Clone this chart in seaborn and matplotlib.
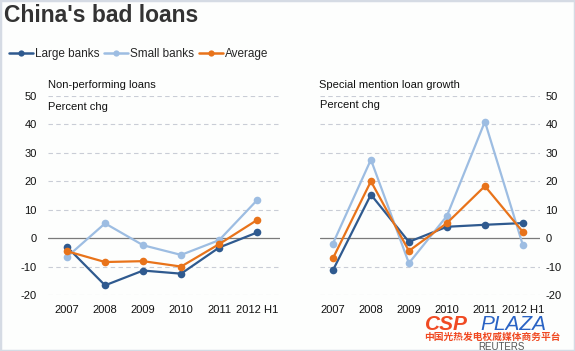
import matplotlib
matplotlib.use("Agg")
import matplotlib.pyplot as plt
import seaborn as sns
import pandas as pd
from matplotlib.lines import Line2D
from matplotlib.patches import Rectangle

years = ["2007", "2008", "2009", "2010", "2011", "2012 H1"]
series_names = ["Large banks", "Small banks", "Average"]

npl_large = [-3.1, -16.6, -11.4, -12.5, -3.3, 2.0]
npl_small = [-6.6, 5.2, -2.5, -5.9, -0.7, 13.4]
npl_avg = [-4.6, -8.4, -8.1, -10.0, -2.1, 6.4]

sm_large = [-11.3, 15.3, -1.3, 4.0, 4.7, 5.3]
sm_small = [-1.9, 27.6, -8.8, 7.8, 41.0, -2.5]
sm_avg = [-7.1, 20.0, -4.5, 5.3, 18.3, 2.2]

yticks = [50, 40, 30, 20, 10, 0, -10, -20]

colors = {"Large banks": "#2f5a8f", "Small banks": "#9dbde2", "Average": "#e8731a"}

sns.set_theme(style="white")
plt.rcParams["font.family"] = ["Liberation Sans", "DejaVu Sans"]

def make_df(large, small, avg):
    rows = []
    for name, vals in zip(series_names, [large, small, avg]):
        for i, v in enumerate(vals):
            rows.append({"pos": i, "value": v, "series": name})
    return pd.DataFrame(rows)

fig = plt.figure(figsize=(5.75, 3.51), dpi=100)
fig.patch.set_facecolor("#fdfefd")
fig.add_artist(Rectangle((0, 0), 1, 1, transform=fig.transFigure, fill=False,
                         edgecolor="#d5dbe4", linewidth=2.5))

W, H = 575, 351
def ax_rect(x0, x1, ytop, ybot):
    return [x0 / W, 1 - ybot / H, (x1 - x0) / W, (ybot - ytop) / H]

ax1 = fig.add_axes(ax_rect(48, 280, 96, 295))
ax2 = fig.add_axes(ax_rect(320, 540, 96, 295))

FS = 8

for ax, (l, s, a), xlim in [(ax1, (npl_large, npl_small, npl_avg), (-0.5, 5.6)),
                            (ax2, (sm_large, sm_small, sm_avg), (-0.34, 5.45))]:
    ax.set_facecolor("none")
    for yv in yticks:
        if yv == 0:
            ax.axhline(0, color="#7a7a7a", lw=0.9, zorder=1)
        else:
            ax.axhline(yv, color="#c9cdd6", lw=0.8, ls=(0, (4, 3)), zorder=1)
    df = make_df(l, s, a)
    sns.lineplot(data=df, x="pos", y="value", hue="series", hue_order=series_names,
                 palette=colors, marker="o", markersize=5.5, markeredgewidth=0,
                 linewidth=1.6, ax=ax, legend=False, zorder=3)
    ax.set_xlim(*xlim)
    ax.set_ylim(-20, 50)
    ax.set_xticks(range(len(years)))
    ax.set_xticklabels(years, fontsize=FS)
    ax.set_yticks(yticks)
    ax.set_yticklabels([str(v) for v in yticks], fontsize=FS)
    ax.set_xlabel("")
    ax.set_ylabel("")
    ax.tick_params(axis="both", length=0, colors="#111111")
    ax.tick_params(axis="x", pad=7)
    for sp in ax.spines.values():
        sp.set_visible(False)

ax1.tick_params(axis="y", pad=8)
ax2.yaxis.tick_right()
ax2.tick_params(axis="y", pad=4)

fig.text(48 / W, 1 - 85 / H, "Non-performing loans", fontsize=FS, va="center", ha="left", color="#111111")
fig.text(48 / W, 1 - 107 / H, "Percent chg", fontsize=FS, va="center", ha="left", color="#111111")
fig.text(319 / W, 1 - 85 / H, "Special mention loan growth", fontsize=FS, va="center", ha="left", color="#111111")
fig.text(320 / W, 1 - 105 / H, "Percent chg", fontsize=FS, va="center", ha="left", color="#111111")

fig.text(4 / W, 1 - 15 / H, "China's bad loans", fontsize=16.5, fontweight="bold",
         va="center", ha="left", color="#333333")

handles = [Line2D([0], [0], color=colors[n], lw=1.8, marker="o", markersize=4.5,
                  markeredgewidth=0) for n in series_names]
fig.legend(handles, series_names, loc="center left", bbox_to_anchor=(9 / W, 1 - 54 / H),
           ncol=3, frameon=False, fontsize=8.5, handlelength=2.0, handletextpad=0.2,
           columnspacing=0.4, borderaxespad=0, borderpad=0)

# watermark
fig.text(425 / W, 1 - 324 / H, "CSP", fontsize=15, fontweight="bold", fontstyle="italic",
         color="#f04a23", va="center", ha="left")
fig.text(480 / W, 1 - 324 / H, "PLAZA", fontsize=15, fontstyle="italic",
         color="#2a63c4", va="center", ha="left")
fig.text(424 / W, 1 - 337 / H, "中国光热发电权威媒体商务平台", fontsize=7,
         fontweight="bold", color="#f04a23", va="center", ha="left",
         family=["Noto Sans CJK SC", "DejaVu Sans"])
fig.text(478 / W, 1 - 346.5 / H, "REUTERS", fontsize=7, color="#555555",
         va="center", ha="left")

fig.savefig("out.png", dpi=100, facecolor=fig.get_facecolor())
